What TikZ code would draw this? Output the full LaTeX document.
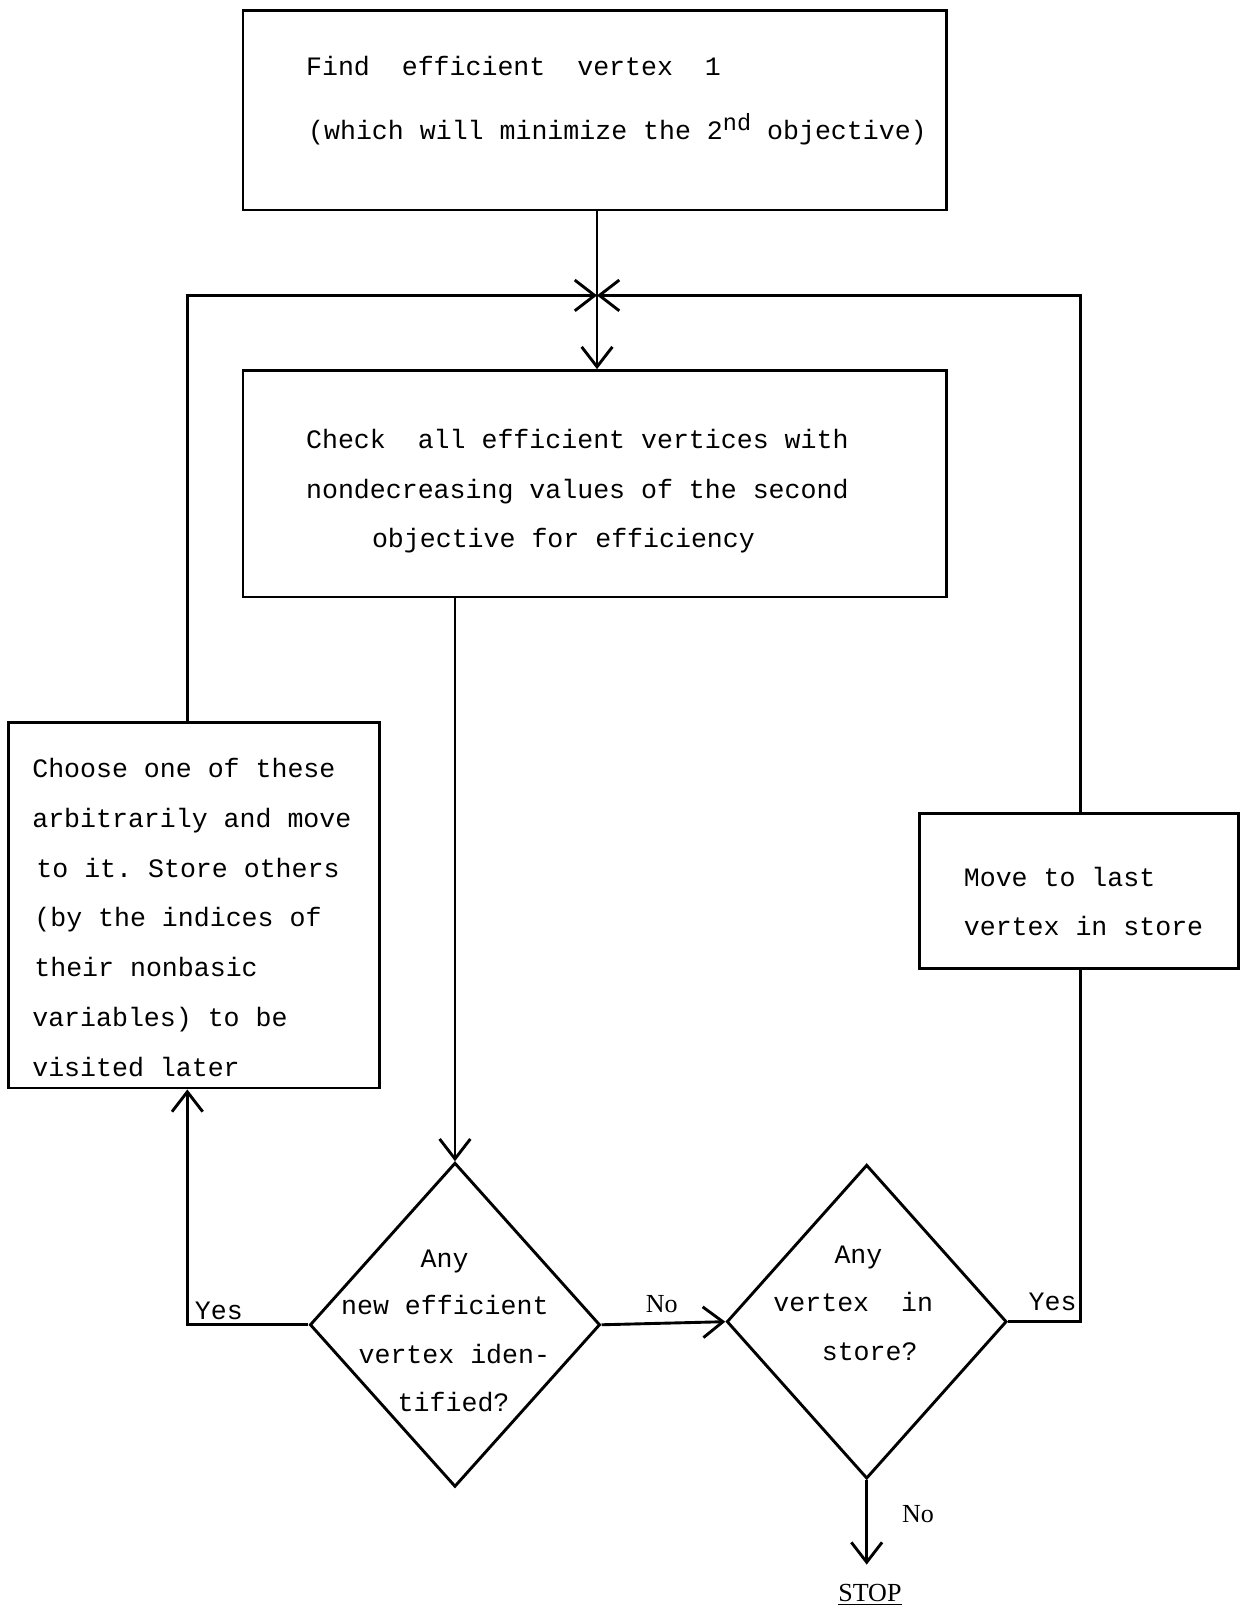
\documentclass[tikz,border=0pt]{standalone}
\usepackage{fontspec}
\setmainfont{Liberation Serif}
\setmonofont{Liberation Mono}
\usetikzlibrary{shapes.geometric,arrows.meta}
\tikzset{
  box/.style={draw, rectangle, inner sep=0pt},
  dia/.style={draw, diamond, inner sep=0pt, shape aspect=1},
  mono/.style={inner sep=0pt, anchor=base west, font=\ttfamily\fontsize{14.7}{17}\selectfont},
  monoc/.style={mono, anchor=base},
  serif/.style={inner sep=0pt, anchor=base west, font=\rmfamily\fontsize{14.4}{17}\selectfont},
  arr/.style={-{Straight Barb[length=11pt,width=17pt]}},
}
\begin{document}
\begin{tikzpicture}[x=0.02cm,y=-0.02cm,line width=1.6pt,line join=miter]
\useasboundingbox (0,0) rectangle (1211,1568);
% boxes
\node[box, minimum width=13.68cm, minimum height=3.88cm] (tb) at (578,107) {};
\node[box, minimum width=13.68cm, minimum height=4.40cm] (cb) at (578,470) {};
\node[box, minimum width=7.22cm, minimum height=7.10cm] (lb) at (188.5,879.5) {};
\node[box, minimum width=6.20cm, minimum height=3.02cm] (rb) at (1048,865.5) {};
\node[dia, minimum width=5.64cm, minimum height=6.30cm] (d1) at (442,1287) {};
\node[dia, minimum width=5.44cm, minimum height=6.10cm] (d2) at (842,1284) {};
% coordinates
\coordinate (J) at (580,287);
\coordinate (cl) at (182,287);
\coordinate (cr) at (1050,287);
\coordinate (sa) at (842,1520);
% connectors
\draw (tb.south -| J) -- (J);
\draw[arr] (J) -- (cb.north -| J);
\draw[arr] (lb.north -| cl) -- (cl) -- (J);
\draw[arr] (rb.north -| cr) -- (cr) -- (J);
\draw[arr] (cb.south -| d1.north) -- (d1.north);
\draw[arr] (d1.west) -- (d1.west -| cl) -- (lb.south -| cl);
\draw[arr] (d1.east) -- (d2.west);
\draw (d2.east) -- (d2.east -| cr) -- (rb.south -| cr);
\draw[arr] (d2.south) -- (sa);
% texts
\node[mono] (t1) at (296,73) {Find~~efficient~~vertex~~1};
\node[mono] (t2) at (298,136) {(which will minimize the 2\raisebox{5pt}{\fontsize{13}{13}\selectfont nd} objective)};
\node[mono] (c1) at (296,436) {Check~~all efficient vertices with};
\node[mono] (c2) at (296,484) {nondecreasing values of the second};
\node[mono] (c3) at (360,532) {objective for efficiency};
\node[mono] (l1) at (30,755) {Choose one of these};
\node[mono] (l2) at (30,804) {arbitrarily and move};
\node[mono] (l3) at (34,852) {to it. Store others};
\node[mono] (l4) at (32,900) {(by the indices of};
\node[mono] (l5) at (32,949) {their nonbasic};
\node[mono] (l6) at (30,997) {variables) to be};
\node[mono] (l7) at (30,1046) {visited later};
\node[mono] (r1) at (935,861) {Move to last};
\node[mono] (r2) at (935,909) {vertex in store};
\node[monoc] (a1) at (432,1231) {Any};
\node[mono] (a2) at (330,1277) {new efficient};
\node[mono] (a3) at (347,1325) {vertex iden-};
\node[mono] (a4) at (385,1371) {tified?};
\node[monoc] (b1) at (834,1227) {Any};
\node[mono] (b2) at (750,1274) {vertex~~in};
\node[mono] (b3) at (797,1322) {store?};
\node[mono] (y1) at (188,1282) {Yes};
\node[mono] (y2) at (998,1273) {Yes};
\node[serif] (n1) at (626,1275) {No};
\node[serif] (n2) at (875,1479) {No};
\node[serif] (stop) at (813,1556) {\underline{STOP}};
\end{tikzpicture}
\end{document}
